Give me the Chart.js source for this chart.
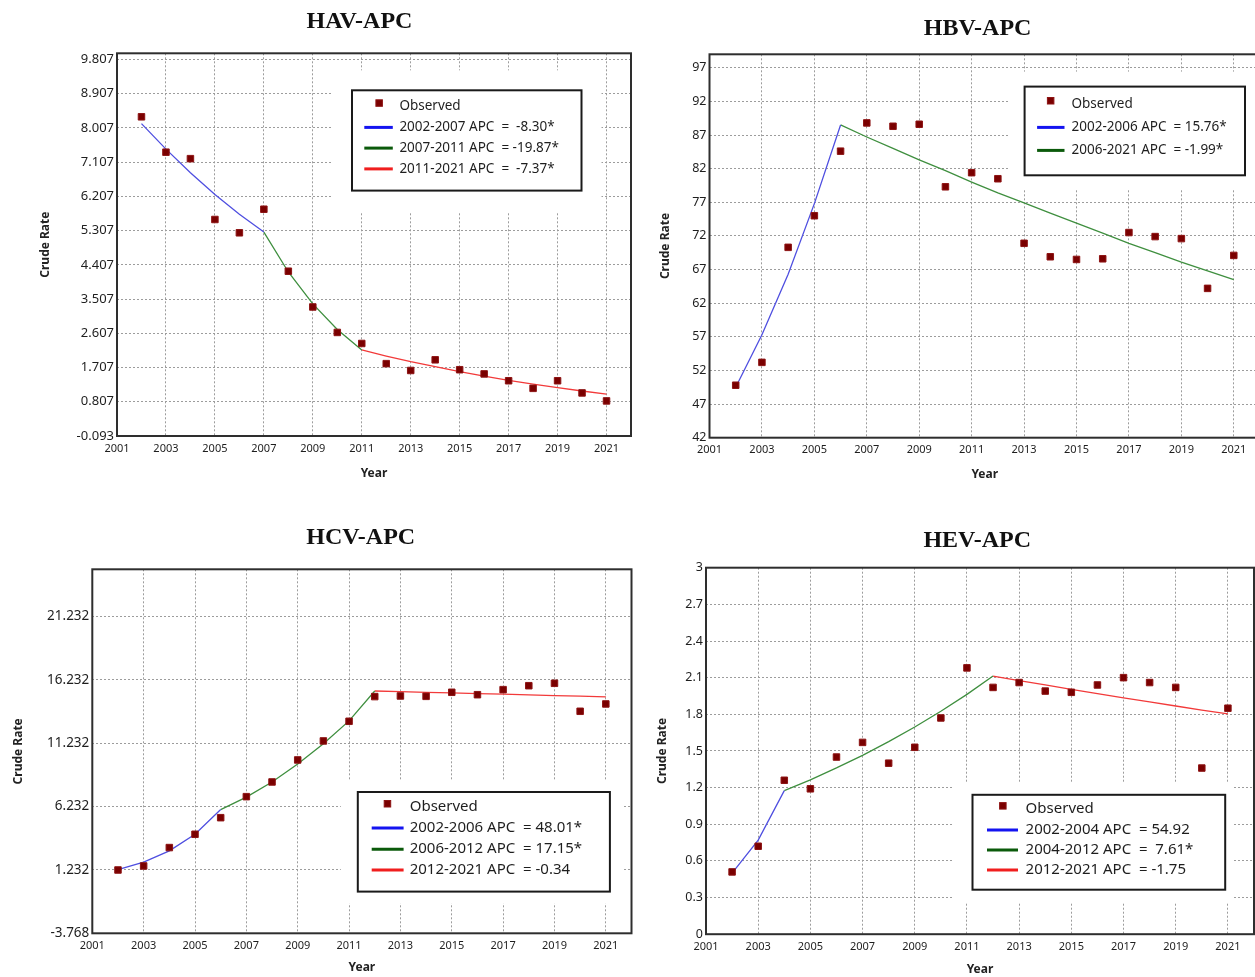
<!DOCTYPE html>
<html><head><meta charset="utf-8">
<script src="https://cdn.jsdelivr.net/npm/chart.js@4.4.1/dist/chart.umd.min.js"></script>
<style>
html,body{margin:0;padding:0;background:#fff;}
body{width:1255px;height:977px;overflow:hidden;position:relative;}
canvas{position:absolute;}
</style></head><body>
<canvas id="hav" width="640" height="490" style="left:0px;top:0px"></canvas>
<canvas id="hbv" width="630" height="490" style="left:640px;top:0px"></canvas>
<canvas id="hcv" width="640" height="479" style="left:0px;top:500px"></canvas>
<canvas id="hev" width="630" height="481" style="left:640px;top:500px"></canvas>
<script>
// ---------- data ----------
const years = [2002,2003,2004,2005,2006,2007,2008,2009,2010,2011,2012,2013,2014,2015,2016,2017,2018,2019,2020,2021];
const xTickYears = [2001,2003,2005,2007,2009,2011,2013,2015,2017,2019,2021];

const havTitle = 'HAV-APC';
const havObserved = [8.30,7.37,7.20,5.60,5.25,5.87,4.24,3.30,2.63,2.34,1.81,1.63,1.91,1.65,1.54,1.36,1.16,1.36,1.04,0.83];
const havSeg1 = [8.12,7.45,6.83,6.26,5.74,5.27];              // 2002-2007
const havSeg2 = [5.27,4.22,3.38,2.71,2.17];                   // 2007-2011
const havSeg3 = [2.17,2.01,1.86,1.73,1.60,1.48,1.37,1.27,1.18,1.09,1.01]; // 2011-2021
const havSegStart = [2002,2007,2011];
const havLabels = ['2002-2007 APC  =  -8.30*','2007-2011 APC  = -19.87*','2011-2021 APC  =  -7.37*'];
const havYTicks = [-0.093,0.807,1.707,2.607,3.507,4.407,5.307,6.207,7.107,8.007,8.907,9.807];

const hbvTitle = 'HBV-APC';
const hbvObserved = [49.8,53.2,70.3,75.0,84.6,88.8,88.3,88.6,79.3,81.4,80.5,70.9,68.9,68.5,68.6,72.5,71.9,71.6,64.2,69.1];
const hbvSeg1 = [49.5,57.3,66.3,76.8,88.5];                   // 2002-2006
const hbvSeg2 = [88.5,86.7,85.0,83.3,81.7,80.0,78.4,76.9,75.4,73.9,72.4,70.9,69.5,68.1,66.8,65.5]; // 2006-2021
const hbvSegStart = [2002,2006];
const hbvLabels = ['2002-2006 APC  = 15.76*','2006-2021 APC  = -1.99*'];
const hbvYTicks = [42,47,52,57,62,67,72,77,82,87,92,97];

const hcvTitle = 'HCV-APC';
const hcvObserved = [1.23,1.55,3.00,4.05,5.36,7.02,8.18,9.92,11.42,12.97,14.92,14.97,14.94,15.26,15.07,15.47,15.78,15.97,13.76,14.34];
const hcvSeg1 = [1.25,1.86,2.74,4.05,6.00];                   // 2002-2006
const hcvSeg2 = [6.00,6.98,8.18,9.60,11.20,13.00,15.36];      // 2006-2012
const hcvSeg3 = [15.36,15.31,15.26,15.21,15.16,15.11,15.05,15.00,14.95,14.90]; // 2012-2021
const hcvSegStart = [2002,2006,2012];
const hcvLabels = ['2002-2006 APC  = 48.01*','2006-2012 APC  = 17.15*','2012-2021 APC  = -0.34'];
const hcvYTicks = [-3.768,1.232,6.232,11.232,16.232,21.232];

const hevTitle = 'HEV-APC';
const hevObserved = [0.51,0.72,1.26,1.19,1.45,1.57,1.40,1.53,1.77,2.18,2.02,2.06,1.99,1.98,2.04,2.10,2.06,2.02,1.36,1.85];
const hevSeg1 = [0.50,0.77,1.175];                            // 2002-2004
const hevSeg2 = [1.175,1.264,1.361,1.464,1.576,1.696,1.825,1.963,2.113]; // 2004-2012
const hevSeg3 = [2.113,2.076,2.040,2.004,1.969,1.935,1.901,1.868,1.835,1.803]; // 2012-2021
const hevSegStart = [2002,2004,2012];
const hevLabels = ['2002-2004 APC  = 54.92','2004-2012 APC  =  7.61*','2012-2021 APC  = -1.75'];
const hevYTicks = [0,0.3,0.6,0.9,1.2,1.5,1.8,2.1,2.4,2.7,3];

// ---------- styling ----------
const FONT = '"Noto Sans", "Open Sans", sans-serif';
const OBS_FILL = '#7a0000', OBS_BORDER = '#8e1414';
const PLOT_COLORS = ['#4f4fe0','#3f8f3f','#f23a3a'];
const LEGEND_COLORS = ['#1414f0','#0b5a0b','#f01e1e'];

function series(startYear, vals) {
  const i0 = years.indexOf(startYear);
  return vals.map((v, i) => ({x: years[i0 + i], y: v}));
}

const panelPlugin = {
  id: 'panel',
  beforeDatasetsDraw(chart, args, o) {
    const ctx = chart.ctx, a = chart.chartArea, b = o.box, m = o.margin;
    ctx.save();
    ctx.beginPath(); ctx.rect(a.left, a.top, a.right - a.left, a.bottom - a.top); ctx.clip();
    ctx.fillStyle = '#ffffff';
    ctx.fillRect(b.x - m[0], b.y - m[1], b.w + m[0] + m[2], b.h + m[1] + m[3]);
    ctx.restore();
    ctx.save();
    ctx.strokeStyle = '#2e2e2e'; ctx.lineWidth = 2;
    ctx.strokeRect(a.left, a.top, a.right - a.left, a.bottom - a.top);
    ctx.restore();
  },
  afterDatasetsDraw(chart, args, o) {
    const ctx = chart.ctx, b = o.box;
    ctx.save();
    ctx.fillStyle = '#ffffff';
    ctx.fillRect(b.x, b.y, b.w, b.h);
    ctx.strokeStyle = '#1a1a1a'; ctx.lineWidth = 2;
    ctx.strokeRect(b.x, b.y, b.w, b.h);
    ctx.font = o.fontSize + 'px ' + FONT;
    ctx.textBaseline = 'middle';
    chart.data.datasets.forEach((ds, i) => {
      const y = o.rows[i];
      if (i === 0) {
        ctx.fillStyle = OBS_FILL; ctx.strokeStyle = OBS_BORDER; ctx.lineWidth = 1;
        ctx.fillRect(o.marker - 3, y - 6.5, 6.5, 6.5);
        ctx.strokeRect(o.marker - 3, y - 6.5, 6.5, 6.5);
      } else {
        ctx.strokeStyle = ds.legendColor; ctx.lineWidth = 3;
        ctx.beginPath(); ctx.moveTo(o.sample[0], y); ctx.lineTo(o.sample[1], y); ctx.stroke();
      }
      ctx.fillStyle = '#1e1e1e';
      ctx.fillText(ds.label, o.textX, y);
    });
    ctx.restore();
  },
  afterDraw(chart, args, o) {
    const ctx = chart.ctx;
    ctx.save();
    ctx.font = 'bold 24px "Liberation Serif", "Times New Roman", serif';
    ctx.fillStyle = '#111';
    ctx.textAlign = 'center'; ctx.textBaseline = 'middle';
    ctx.fillText(o.title, o.titlePos[0], o.titlePos[1]);
    ctx.restore();
  }
};

function build(id, p) {
  const datasets = [{
    label: 'Observed', data: series(2002, p.observed), showLine: false,
    pointStyle: 'rect', pointRadius: 4.6, pointHoverRadius: 4.6,
    backgroundColor: OBS_FILL, borderColor: OBS_BORDER, pointBorderWidth: 1
  }];
  p.segs.forEach((s, i) => datasets.push({
    label: p.labels[i], data: series(p.segStart[i], s), showLine: true,
    borderColor: PLOT_COLORS[p.colorIdx[i]], legendColor: LEGEND_COLORS[p.colorIdx[i]],
    borderWidth: 1.3, pointRadius: 0, tension: 0, fill: false
  }));
  const gridCfg = {color: '#9c9c9c', lineWidth: 1, drawTicks: false};
  return new Chart(document.getElementById(id), {
    type: 'scatter',
    data: {datasets},
    plugins: [panelPlugin],
    options: {
      responsive: false, animation: false, devicePixelRatio: 1,
      layout: {padding: p.pad},
      plugins: {
        legend: {display: false}, tooltip: {enabled: false}, title: {display: false},
        panel: {box: p.box, margin: p.margin, rows: p.rows, sample: p.sample, marker: p.marker,
                textX: p.textX, fontSize: p.fontSize, title: p.title, titlePos: p.titlePos}
      },
      scales: {
        x: {
          type: 'linear', min: 2001, max: 2022,
          afterBuildTicks: s => { s.ticks = xTickYears.map(v => ({value: v})); },
          afterFit: s => { s.height = p.xH; },
          grid: gridCfg, border: {display: false, dash: [2, 2]},
          ticks: {padding: p.xPad, color: '#1e1e1e', autoSkip: false, maxRotation: 0,
                  font: {family: FONT, size: 11}, callback: v => String(v)},
          title: {display: true, text: 'Year', color: '#222', font: {family: FONT, size: 12, weight: 'bold'}}
        },
        y: {
          type: 'linear', min: p.yMin, max: p.yMax,
          afterBuildTicks: s => { s.ticks = p.yTicks.map(v => ({value: v})); },
          afterFit: s => { s.width = p.yW; },
          grid: gridCfg, border: {display: false, dash: [2, 2]},
          ticks: {padding: 3, color: '#1e1e1e', font: {family: FONT, size: p.yFont}, callback: p.yFmt},
          title: {display: true, text: 'Crude Rate', color: '#222', font: {family: FONT, size: 12, weight: 'bold'}}
        }
      }
    }
  });
}

const fmt3 = v => v.toFixed(3);
const fmtInt = v => String(Math.round(v));
const fmt1 = v => String(+v.toFixed(1));

build('hav', {
  observed: havObserved, segs: [havSeg1, havSeg2, havSeg3], segStart: havSegStart, labels: havLabels, colorIdx: [0,1,2],
  yTicks: havYTicks, yMin: -0.093, yMax: 9.97, yFmt: fmt3, yFont: 13,
  pad: {left: 34.3, right: 9, top: 53.3, bottom: 5.4}, yW: 82.7, xH: 48.6, xPad: 6,
  box: {x: 352, y: 90.3, w: 229.5, h: 100.3}, margin: [20, 20, 20, 22],
  rows: [106.3, 127.4, 148.1, 168.9], sample: [364.3, 392.8], marker: 378.9, textX: 399.4, fontSize: 13.5,
  title: havTitle, titlePos: [359.5, 22]
});
build('hbv', {
  observed: hbvObserved, segs: [hbvSeg1, hbvSeg2], segStart: hbvSegStart, labels: hbvLabels, colorIdx: [0,1],
  yTicks: hbvYTicks, yMin: 42, yMax: 99, yFmt: fmtInt, yFont: 12.5,
  pad: {left: 13.9, right: 10, top: 54.3, bottom: 4.1}, yW: 55.6, xH: 48.2, xPad: 6,
  box: {x: 384.6, y: 86.6, w: 220.4, h: 88.7}, margin: [15, 15, 15, 14],
  rows: [104, 127.4, 150.4], sample: [397.1, 424.5], marker: 410.4, textX: 431.5, fontSize: 13.5,
  title: hbvTitle, titlePos: [337.6, 28.4]
});
build('hcv', {
  observed: hcvObserved, segs: [hcvSeg1, hcvSeg2, hcvSeg3], segStart: hcvSegStart, labels: hcvLabels, colorIdx: [0,1,2],
  yTicks: hcvYTicks, yMin: -3.768, yMax: 24.97, yFmt: fmt3, yFont: 13.5,
  pad: {left: 6.9, right: 8.5, top: 69.3, bottom: 0}, yW: 85.4, xH: 45.7, xPad: 6,
  box: {x: 357.8, y: 292, w: 252.1, h: 99.6}, margin: [17, 11, 14, 12],
  rows: [307, 328.1, 349.2, 369.9], sample: [371.7, 403.6], marker: 387.2, textX: 409.7, fontSize: 15,
  title: hcvTitle, titlePos: [360.7, 37.5]
});
build('hev', {
  observed: hevObserved, segs: [hevSeg1, hevSeg2, hevSeg3], segStart: hevSegStart, labels: hevLabels, colorIdx: [0,1,2],
  yTicks: hevYTicks, yMin: 0, yMax: 3, yFmt: fmt1, yFont: 12.5,
  pad: {left: 11.1, right: 16, top: 67.7, bottom: 0}, yW: 54.9, xH: 46.8, xPad: 6,
  box: {x: 332.5, y: 294.8, w: 252.7, h: 94.9}, margin: [19, 12, 8, 13],
  rows: [309.1, 330, 350, 370], sample: [347, 378], marker: 362.6, textX: 385.6, fontSize: 15,
  title: hevTitle, titlePos: [337.2, 40.7]
});
</script>
</body></html>
